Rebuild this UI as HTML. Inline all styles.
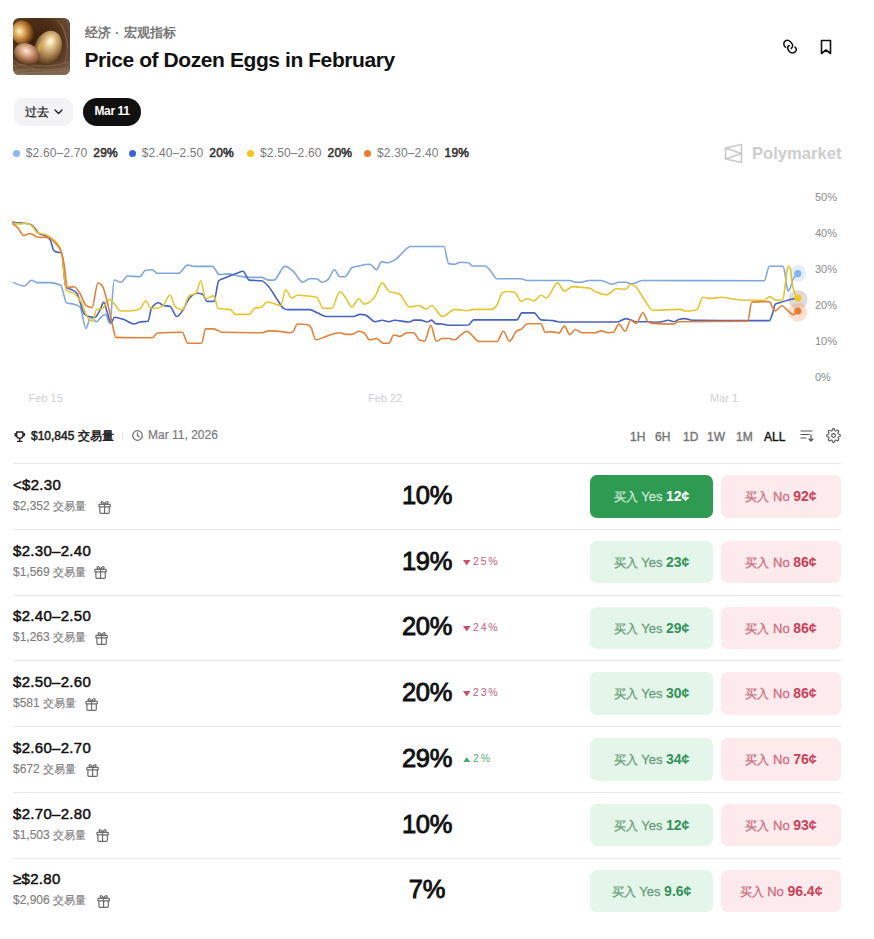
<!DOCTYPE html>
<html><head><meta charset="utf-8">
<style>
*{margin:0;padding:0;box-sizing:border-box}
html,body{width:874px;height:939px;background:#fff;overflow:hidden}
body{font-family:"Liberation Sans",sans-serif;color:#111;position:relative}
.a{position:absolute;white-space:nowrap}
.t{line-height:1}
#hdr-img{left:13px;top:18px;width:57px;height:57px;border-radius:6px;overflow:hidden}
.cat{left:84.5px;top:24.8px;font-size:13px;color:#777;font-weight:bold;line-height:15px}
.title{left:84.5px;top:49.2px;font-size:21px;font-weight:bold;line-height:21px;color:#111;letter-spacing:-0.42px}
.btn-past{left:14px;top:98px;width:59px;height:28px;border-radius:9px;background:#f3f3f5;font-size:11.6px;line-height:28px;padding-left:11px;color:#222;-webkit-text-stroke:0.25px #222}
.btn-mar{left:83px;top:98px;width:58px;height:28px;border-radius:14px;background:#111;color:#fff;font-size:12px;font-weight:bold;line-height:26.5px;text-align:center;letter-spacing:-0.4px}
.leg{top:146px;font-size:12px;line-height:14px;color:#7a7a7a;letter-spacing:0.15px}
.leg b{color:#333;margin-left:6px;font-weight:normal;-webkit-text-stroke:0.55px #333}
.dot{position:absolute;width:7px;height:7px;border-radius:50%;top:149.5px}
.poly{left:752px;top:145.3px;font-size:16.6px;font-weight:bold;color:#cdcdcd;line-height:17px}
.ax{font-size:11px;color:#888;line-height:12px}
.xl{font-size:11px;color:#c9cdd2;line-height:12px}
.tr{top:429px;font-size:12px;line-height:13px}
.rng{top:430.5px;font-size:12px;color:#767676;line-height:12px;-webkit-text-stroke:0.4px currentColor}
.div{left:13px;width:828px;height:1px;background:#e9e9eb}
.lbl{left:13px;font-size:15px;line-height:15px;color:#111;-webkit-text-stroke:0.5px #111;letter-spacing:0.3px}
.sub{left:13px;font-size:12px;line-height:12px;color:#7e7e7e;-webkit-text-stroke:0.15px currentColor}
.pct{left:377px;width:100px;text-align:center;font-size:25.5px;letter-spacing:-0.3px;line-height:25.5px;color:#111;-webkit-text-stroke:0.9px #111}
.chg{font-size:10.5px;line-height:10px;letter-spacing:1.8px;-webkit-text-stroke:0;font-weight:normal}
.yes{left:590px;width:123px;height:42.5px;border-radius:7px;background:#e4f5e9;text-align:center;line-height:42.5px;font-size:13px;color:#689d7b;-webkit-text-stroke:0.3px currentColor}
.yes b{color:#35915a;font-size:14px;-webkit-text-stroke:0}
.no{left:721px;width:120px;height:42.5px;border-radius:7px;background:#fdeaed;text-align:center;line-height:42.5px;font-size:13px;color:#cd6d80;-webkit-text-stroke:0.3px currentColor}
.no b{color:#c9425a;font-size:14px;-webkit-text-stroke:0}
.yes.on{background:#2f9a52;color:#cdebd6}
.yes.on b{color:#fff}
</style></head><body>

<!-- header image -->
<div class="a" id="hdr-img">
<svg width="57" height="57" viewBox="0 0 57 57">
<defs>
<radialGradient id="nest" cx="42%" cy="42%" r="75%"><stop offset="0" stop-color="#3a200c"/><stop offset="0.55" stop-color="#4e3019"/><stop offset="1" stop-color="#7a5c44"/></radialGradient>
<radialGradient id="egg1" cx="38%" cy="42%" r="62%"><stop offset="0" stop-color="#fff6dc"/><stop offset="0.2" stop-color="#f2cc88"/><stop offset="0.6" stop-color="#b87a34"/><stop offset="1" stop-color="#5e3612"/></radialGradient>
<radialGradient id="egg2" cx="50%" cy="36%" r="62%" fx="48%" fy="30%"><stop offset="0" stop-color="#fffdf0"/><stop offset="0.2" stop-color="#f2d8a0"/><stop offset="0.55" stop-color="#b8925e"/><stop offset="1" stop-color="#553818"/></radialGradient>
<radialGradient id="egg3" cx="42%" cy="38%" r="66%"><stop offset="0" stop-color="#fde8d8"/><stop offset="0.3" stop-color="#e0b090"/><stop offset="0.75" stop-color="#8e5e3a"/><stop offset="1" stop-color="#553418"/></radialGradient>
<linearGradient id="twig" x1="0" y1="0" x2="0" y2="1"><stop offset="0" stop-color="#6a4a30" stop-opacity="0"/><stop offset="1" stop-color="#8a725e"/></linearGradient>
<filter id="bl" x="-10%" y="-10%" width="120%" height="120%"><feGaussianBlur stdDeviation="0.7"/></filter><filter id="bl2" x="-50%" y="-50%" width="200%" height="200%"><feGaussianBlur stdDeviation="1.2"/></filter><linearGradient id="rim" x1="0" y1="0" x2="1" y2="0"><stop offset="0" stop-color="#f0b040" stop-opacity="0.9"/><stop offset="1" stop-color="#f0b040" stop-opacity="0"/></linearGradient>
</defs>
<rect width="57" height="57" fill="url(#nest)"/>
<rect y="40" width="57" height="17" fill="url(#twig)" opacity="0.85"/>
<g stroke="#a08468" stroke-width="0.6" fill="none" opacity="0.75">
<path d="M0 48 C15 44 30 52 57 44"/><path d="M2 53 C20 49 35 55 55 50"/><path d="M48 5 C54 15 56 30 52 45"/><path d="M3 57 C18 52 40 56 57 52"/><path d="M44 2 C50 8 54 20 55 30"/><path d="M0 42 C6 47 14 50 22 50"/>
</g>
<g filter="url(#bl)"><ellipse cx="9.5" cy="14.5" rx="11" ry="12" transform="rotate(-15 9.5 14.5)" fill="url(#egg1)"/>
<ellipse cx="35" cy="30" rx="13.3" ry="17.8" transform="rotate(22 35 30)" fill="url(#egg2)"/>
<ellipse cx="26.5" cy="29.5" rx="1.8" ry="6.5" transform="rotate(22 26.5 29.5)" fill="#f4bc50" opacity="0.6" filter="url(#bl2)"/>
<ellipse cx="14" cy="36" rx="13.3" ry="10.3" transform="rotate(25 14 36)" fill="url(#egg3)"/></g>
</svg>
</div>

<div class="a cat">经济<span style="margin:0 5px 0 4.5px">·</span>宏观指标</div>
<div class="a title">Price of Dozen Eggs in February</div>

<!-- link + bookmark icons -->
<svg class="a" style="left:780px;top:37px" width="20" height="20" viewBox="0 0 20 20" fill="none" stroke="#111" stroke-width="1.5" stroke-linecap="round">
<path d="M5.5 10.3 C3.5 8.5 3.2 5.5 5 4.2 C6.8 2.9 9 3.3 10.5 4.8 C12 6.3 13.2 8.4 12.3 10 C12 10.6 11.6 11 11.2 11.4"/>
<path d="M9.2 8.5 C7.8 9.3 7.2 11 8.2 12.8 C9.3 14.8 11.5 16.2 13.5 15.8 C15.5 15.4 16.8 13.3 16.2 11.8 C15.9 11 15.4 10.5 14.9 10.1"/>
</svg>
<svg class="a" style="left:820px;top:39px" width="12" height="16" viewBox="0 0 12 16" fill="none" stroke="#111" stroke-width="1.6" stroke-linejoin="round">
<path d="M1.5 1.5 H10.5 V14.5 L6 11 L1.5 14.5 Z"/>
</svg>

<div class="a btn-past">过去 <svg style="position:absolute;left:40px;top:11px" width="9" height="6" viewBox="0 0 9 6" fill="none" stroke="#222" stroke-width="1.4" stroke-linecap="round" stroke-linejoin="round"><path d="M1 1 L4.5 4.5 L8 1"/></svg></div>
<div class="a btn-mar">Mar 11</div>

<!-- legend -->
<span class="dot" style="left:13px;background:#8bb8ef"></span>
<div class="a leg" style="left:25.8px">$2.60–2.70<b>29%</b></div>
<span class="dot" style="left:129px;background:#3b63d6"></span>
<div class="a leg" style="left:141.8px">$2.40–2.50<b>20%</b></div>
<span class="dot" style="left:247px;background:#f3c51a"></span>
<div class="a leg" style="left:260px">$2.50–2.60<b>20%</b></div>
<span class="dot" style="left:364px;background:#ef7a2b"></span>
<div class="a leg" style="left:377px">$2.30–2.40<b>19%</b></div>

<!-- polymarket logo -->
<svg class="a" style="left:724px;top:143px" width="20" height="21" viewBox="0 0 20 21" fill="none" stroke="#c9c9c9" stroke-width="1.6" stroke-linejoin="round">
<path d="M1.5 5 L17.5 1.5 V19.5 L1.5 16 Z M1.5 5 L17.5 10.5 L1.5 16"/>
</svg>
<div class="a poly">Polymarket</div>

<!-- chart -->
<svg class="a" style="left:0;top:0" width="874" height="420" viewBox="0 0 874 420">
<g font-family="Liberation Sans" font-size="11" fill="#8a8a8a">
<text x="815" y="201.4">50%</text>
<text x="815" y="237.3">40%</text>
<text x="815" y="273.2">30%</text>
<text x="815" y="309.1">20%</text>
<text x="815" y="345.0">10%</text>
<text x="815" y="380.9">0%</text>
</g>
<g font-family="Liberation Sans" font-size="11" fill="#cfd0d4">
<text x="28.6" y="402">Feb 15</text><text x="368" y="402">Feb 22</text><text x="710" y="402">Mar 1</text>
</g>
<circle cx="797.8" cy="273.5" r="8.5" fill="#8ab4ec" opacity="0.22"/>
<circle cx="798" cy="299.5" r="9.5" fill="#b0a498" opacity="0.4"/>
<circle cx="797.8" cy="312" r="9.5" fill="#f5a070" opacity="0.32"/>
<path d="M13.7 282.6 C17.2 284.3 20.7 286.0 24.2 286.0 C26.7 286.0 29.1 280.3 31.6 280.3 C33.3 280.3 35.1 282.6 36.8 282.6 C41.3 282.6 45.7 282.6 50.2 282.6 C53.7 282.6 57.2 283.5 60.7 285.3 C62.7 286.3 64.6 302.5 66.6 303.1 C69.1 303.8 71.6 303.5 74.1 304.2 C76.1 304.8 78.0 305.1 80.0 306.9 C82.0 308.7 84.0 328.5 86.0 328.5 C87.5 328.5 89.0 317.3 90.5 317.3 C92.5 317.3 94.4 321.8 96.4 321.8 C97.9 321.8 99.4 318.6 100.9 317.3 C102.4 316.1 103.9 314.3 105.4 314.3 C106.9 314.3 108.3 323.3 109.8 323.3 C111.3 323.3 112.8 280.0 114.3 280.0 C116.6 280.0 118.9 282.2 121.2 282.2 C123.3 282.2 125.3 276.0 127.4 276.0 C131.5 276.0 135.6 276.7 139.7 276.7 C141.5 276.7 143.4 270.9 145.2 270.5 C147.5 270.0 149.8 269.8 152.1 269.8 C153.9 269.8 155.8 273.3 157.6 273.3 C164.5 273.3 171.3 273.3 178.2 273.3 C181.4 273.3 184.6 265.0 187.8 265.0 C190.1 265.0 192.3 266.4 194.6 266.4 C200.6 266.4 206.5 266.4 212.5 266.4 C214.8 266.4 217.1 274.6 219.4 274.6 C222.1 274.6 224.9 273.9 227.6 273.9 C231.1 273.9 234.7 275.4 238.2 276.0 C241.9 276.6 245.5 277.4 249.2 277.4 C253.3 277.4 257.5 277.4 261.6 277.4 C263.9 277.4 266.1 280.1 268.4 280.1 C270.2 280.1 272.1 280.1 273.9 280.1 C277.6 280.1 281.2 266.4 284.9 266.4 C287.7 266.4 290.4 268.9 293.2 271.2 C296.4 273.9 299.6 282.2 302.8 282.2 C305.1 282.2 307.3 278.7 309.6 278.7 C311.9 278.7 314.2 278.7 316.5 278.7 C318.3 278.7 320.2 282.2 322.0 282.2 C324.1 282.2 326.1 281.3 328.2 279.4 C330.3 277.5 332.3 269.8 334.4 269.8 C336.2 269.8 338.0 276.7 339.8 276.7 C341.5 276.7 343.3 276.7 345.0 276.7 C347.3 276.7 349.6 269.0 351.9 267.8 C354.2 266.6 356.4 266.5 358.7 266.0 C362.4 265.2 366.0 264.3 369.7 264.3 C372.0 264.3 374.3 269.8 376.6 269.8 C378.2 269.8 379.8 261.6 381.4 261.6 C383.5 261.6 385.5 262.7 387.6 262.7 C389.9 262.7 392.1 261.3 394.4 260.2 C399.9 257.4 405.4 246.5 410.9 246.5 C421.9 246.5 432.9 246.5 443.9 246.5 C445.5 246.5 447.1 263.2 448.7 263.6 C450.7 264.1 452.8 264.3 454.8 264.3 C456.6 264.3 458.5 262.3 460.3 262.3 C462.9 262.3 465.6 262.4 468.2 262.7 C469.6 262.8 471.0 266.0 472.4 266.0 C476.7 266.0 481.1 266.0 485.4 266.0 C487.0 266.0 488.6 268.8 490.2 270.5 C492.5 272.9 494.8 278.7 497.1 278.7 C504.9 278.7 512.6 278.7 520.4 278.7 C522.7 278.7 525.0 280.5 527.3 280.5 C541.5 280.5 555.6 280.5 569.8 280.5 C571.6 280.5 573.5 282.2 575.3 282.2 C577.5 282.2 579.7 282.2 581.9 282.2 C584.2 282.2 586.4 280.5 588.7 280.5 C592.8 280.5 597.0 280.5 601.1 280.5 C604.8 280.5 608.4 284.2 612.1 284.2 C614.4 284.2 616.6 282.2 618.9 282.2 C621.2 282.2 623.5 282.2 625.8 282.2 C627.6 282.2 629.5 283.8 631.3 283.8 C635.0 283.8 638.6 280.5 642.3 280.5 C682.9 280.5 723.6 280.7 764.2 280.7 C765.9 280.7 767.7 266.2 769.4 266.2 C773.9 266.2 778.3 266.2 782.8 266.2 C783.5 266.2 784.3 269.3 785.0 273.6 C785.5 276.5 786.0 281.9 786.5 284.8 C787.0 287.7 787.5 291.1 788.0 291.1 C788.9 291.1 789.7 289.3 790.6 287.0 C791.2 285.3 791.9 282.0 792.5 280.3 C793.5 277.6 794.5 277.3 795.5 275.9 C796.2 274.9 797.0 273.9 797.7 272.9" fill="none" stroke="#80a6dc" stroke-width="1.6" stroke-linejoin="round" stroke-linecap="round"/>
<path d="M13.0 222.0 C13.6 222.2 14.2 222.4 14.8 222.5 C17.8 223.0 20.7 222.8 23.7 223.2 C26.0 223.5 28.3 223.7 30.6 224.6 C32.0 225.2 33.3 226.4 34.7 228.0 C35.8 229.3 37.0 231.8 38.1 232.8 C40.9 235.1 43.6 234.1 46.4 236.3 C47.8 237.4 49.1 237.7 50.5 240.4 C51.6 242.7 52.8 249.8 53.9 250.7 C55.3 251.8 56.6 252.2 58.0 252.4 C59.2 252.6 60.3 252.5 61.5 252.7 C63.0 253.0 64.4 286.4 65.9 287.5 C67.9 289.0 69.8 288.6 71.8 289.7 C73.5 290.7 75.3 291.0 77.0 293.5 C79.5 297.2 82.0 311.7 84.5 314.3 C86.0 315.8 87.5 316.2 89.0 316.6 C91.0 317.1 93.0 317.3 95.0 317.3 C96.5 317.3 97.9 313.7 99.4 311.3 C100.9 308.8 102.4 302.4 103.9 302.4 C104.9 302.4 105.9 308.4 106.9 311.3 C108.4 315.5 109.8 323.3 111.3 323.3 C112.3 323.3 113.3 317.3 114.3 317.3 C117.3 317.3 120.2 318.3 123.2 319.2 C126.9 320.3 130.5 324.0 134.2 324.0 C136.0 324.0 137.9 322.3 139.7 322.0 C142.5 321.5 145.2 321.8 148.0 321.3 C149.1 321.1 150.3 310.0 151.4 308.3 C153.9 304.6 156.4 302.8 158.9 302.8 C160.3 302.8 161.7 305.2 163.1 305.5 C165.4 306.0 167.6 305.7 169.9 306.2 C172.2 306.7 174.5 316.5 176.8 316.5 C178.6 316.5 180.5 313.5 182.3 311.0 C184.6 307.9 186.8 301.6 189.1 298.7 C191.9 295.1 194.6 293.2 197.4 293.2 C199.2 293.2 201.1 293.6 202.9 294.5 C204.3 295.1 205.6 301.4 207.0 301.4 C209.3 301.4 211.6 301.4 213.9 301.4 C215.5 301.4 217.1 282.3 218.7 280.8 C220.7 278.9 222.8 278.9 224.8 278.0 C228.8 276.2 232.9 274.7 236.9 273.3 C238.9 272.6 241.0 271.2 243.0 271.2 C245.1 271.2 247.1 279.9 249.2 280.1 C253.3 280.6 257.5 280.3 261.6 280.8 C263.9 281.1 266.1 283.8 268.4 286.3 C271.2 289.4 273.9 294.7 276.7 298.7 C279.0 302.0 281.2 306.9 283.5 308.3 C284.9 309.2 286.3 309.6 287.7 309.6 C295.0 309.6 302.3 309.6 309.6 309.6 C312.4 309.6 315.1 311.9 317.9 313.1 C320.6 314.2 323.4 316.5 326.1 316.5 C335.1 316.5 344.2 316.5 353.2 316.5 C355.5 316.5 357.8 314.4 360.1 314.4 C361.9 314.4 363.8 314.6 365.6 315.1 C368.8 315.9 372.0 321.7 375.2 321.7 C377.5 321.7 379.8 320.3 382.1 320.3 C384.4 320.3 386.6 321.7 388.9 321.7 C390.7 321.7 392.6 320.3 394.4 320.3 C399.4 320.3 404.5 322.0 409.5 322.0 C410.9 322.0 412.3 320.1 413.7 320.1 C416.0 320.1 418.2 320.1 420.5 320.1 C422.8 320.1 425.1 322.0 427.4 322.0 C428.8 322.0 430.1 320.1 431.5 320.1 C432.9 320.1 434.2 323.4 435.6 323.6 C438.4 324.0 441.1 323.8 443.9 324.2 C445.3 324.4 446.6 325.3 448.0 325.3 C454.7 325.3 461.5 325.2 468.2 325.0 C470.0 324.9 471.9 319.9 473.7 319.9 C488.1 319.9 502.6 319.9 517.0 319.9 C518.6 319.9 520.2 312.9 521.8 312.9 C525.9 312.9 530.0 312.9 534.1 312.9 C536.4 312.9 538.7 319.6 541.0 319.9 C545.1 320.4 549.3 320.1 553.4 320.6 C555.2 320.8 557.1 322.0 558.9 322.0 C578.5 322.0 598.0 322.0 617.6 322.0 C620.3 322.0 623.1 318.6 625.8 318.6 C628.1 318.6 630.4 319.7 632.7 320.6 C633.6 320.9 634.5 321.7 635.4 321.7 C640.0 321.7 644.5 321.7 649.1 321.7 C650.9 321.7 652.8 322.3 654.6 322.3 C656.9 322.3 659.2 322.0 661.5 321.7 C663.8 321.4 666.1 320.3 668.4 320.3 C670.2 320.3 672.1 321.7 673.9 321.7 C675.7 321.7 677.6 319.6 679.4 319.2 C681.2 318.8 683.0 318.6 684.8 318.6 C686.6 318.6 688.5 319.6 690.3 319.9 C691.9 320.1 693.4 320.3 695.0 320.3 C712.6 320.5 730.1 320.6 747.7 320.6 C754.9 320.6 762.2 320.6 769.4 320.6 C770.4 320.6 771.4 316.7 772.4 313.9 C773.4 311.2 774.3 304.8 775.3 304.2 C776.8 303.2 778.3 303.2 779.8 302.7 C784.0 301.3 788.3 299.8 792.5 299.0 C794.3 298.7 796.0 298.4 797.8 298.2" fill="none" stroke="#4862c0" stroke-width="1.6" stroke-linejoin="round" stroke-linecap="round"/>
<path d="M13.0 223.4 C15.9 223.7 18.8 223.9 21.7 223.9 C23.3 223.9 24.9 223.2 26.5 223.2 C28.5 223.2 30.6 224.8 32.6 226.7 C34.2 228.2 35.9 232.1 37.5 232.8 C39.3 233.5 41.1 233.4 42.9 233.9 C44.3 234.3 45.7 234.5 47.1 235.2 C48.9 236.1 50.8 237.4 52.6 239.0 C54.4 240.5 56.2 241.4 58.0 244.5 C59.2 246.5 60.3 247.0 61.5 252.1 C63.2 259.5 64.9 289.1 66.6 290.5 C69.1 292.5 71.6 291.5 74.1 293.5 C76.6 295.5 79.0 297.7 81.5 302.4 C83.5 306.2 85.5 314.5 87.5 317.3 C89.2 319.8 91.0 321.0 92.7 321.0 C93.9 321.0 95.2 310.5 96.4 309.9 C98.4 308.9 100.4 309.4 102.4 308.4 C103.9 307.6 105.4 304.1 106.9 302.4 C107.9 301.3 108.8 299.4 109.8 299.4 C111.3 299.4 112.8 302.3 114.3 303.9 C116.4 306.1 118.4 311.0 120.5 311.0 C123.2 311.0 126.0 311.0 128.7 311.0 C132.4 311.0 136.0 310.3 139.7 309.0 C141.8 308.2 143.8 300.7 145.9 300.7 C147.5 300.7 149.1 308.3 150.7 308.3 C152.5 308.3 154.4 308.3 156.2 308.3 C158.5 308.3 160.8 307.4 163.1 305.5 C165.4 303.7 167.6 295.2 169.9 295.2 C171.7 295.2 173.6 305.5 175.4 306.9 C177.7 308.7 180.0 309.6 182.3 309.6 C184.6 309.6 186.8 297.7 189.1 295.9 C191.4 294.1 193.7 295.0 196.0 293.2 C197.6 291.9 199.2 280.8 200.8 280.8 C202.4 280.8 204.0 298.7 205.6 298.7 C208.4 298.7 211.1 295.9 213.9 295.9 C215.3 295.9 216.6 308.0 218.0 308.3 C222.1 309.2 226.2 308.7 230.3 309.6 C232.0 310.0 233.8 314.4 235.5 314.4 C240.1 314.4 244.6 314.4 249.2 314.4 C251.0 314.4 252.9 309.0 254.7 308.3 C257.0 307.4 259.3 307.8 261.6 306.9 C263.4 306.2 265.3 302.1 267.1 302.1 C268.5 302.1 269.8 302.5 271.2 302.8 C274.4 303.5 277.6 305.5 280.8 305.5 C282.4 305.5 284.0 289.7 285.6 289.7 C287.7 289.7 289.7 298.0 291.8 298.0 C293.6 298.0 295.5 295.2 297.3 295.2 C300.5 295.2 303.7 295.5 306.9 295.9 C310.1 296.2 313.3 296.4 316.5 297.3 C318.8 298.0 321.1 308.3 323.4 308.3 C326.1 308.3 328.9 308.3 331.6 308.3 C334.3 308.3 337.1 291.8 339.8 291.8 C341.6 291.8 343.5 295.1 345.3 297.3 C347.5 300.0 349.7 306.9 351.9 306.9 C354.2 306.9 356.4 298.7 358.7 298.7 C360.5 298.7 362.4 304.1 364.2 304.1 C367.9 304.1 371.5 301.2 375.2 295.9 C377.5 292.6 379.8 282.9 382.1 282.9 C384.4 282.9 386.6 289.7 388.9 291.1 C392.6 293.4 396.2 292.2 399.9 294.5 C403.1 296.5 406.3 306.9 409.5 306.9 C412.7 306.9 415.9 305.5 419.1 305.5 C421.4 305.5 423.7 309.0 426.0 309.0 C427.8 309.0 429.7 305.5 431.5 305.5 C435.2 305.5 438.8 316.5 442.5 316.5 C446.6 316.5 450.7 309.4 454.8 309.4 C458.8 309.4 462.9 310.7 466.9 310.7 C469.2 310.7 471.4 309.4 473.7 309.4 C479.7 309.4 485.6 309.4 491.6 309.4 C493.4 309.4 495.3 307.6 497.1 304.8 C498.9 302.0 500.8 293.4 502.6 292.5 C504.0 291.8 505.3 291.5 506.7 291.5 C509.4 291.5 512.2 291.8 514.9 292.5 C517.0 293.0 519.0 301.4 521.1 301.4 C523.2 301.4 525.2 298.7 527.3 298.7 C529.6 298.7 531.8 300.7 534.1 300.7 C536.4 300.7 538.7 295.2 541.0 295.2 C542.8 295.2 544.7 298.0 546.5 298.0 C550.2 298.0 553.8 282.9 557.5 282.9 C559.8 282.9 562.1 291.1 564.4 291.1 C567.1 291.1 569.9 286.6 572.6 286.6 C575.7 286.6 578.8 287.1 581.9 287.4 C584.6 287.7 587.4 287.7 590.1 288.4 C591.9 288.8 593.8 290.9 595.6 291.8 C599.3 293.6 602.9 294.8 606.6 294.8 C609.8 294.8 613.0 288.8 616.2 288.8 C619.4 288.8 622.6 289.3 625.8 289.3 C627.4 289.3 629.0 284.2 630.6 284.2 C632.2 284.2 633.8 285.0 635.4 286.3 C638.2 288.6 640.9 294.9 643.7 298.7 C646.9 303.1 650.1 310.3 653.3 310.3 C656.9 310.3 660.6 310.0 664.2 309.9 C669.7 309.7 675.2 309.4 680.7 309.4 C682.1 309.4 683.4 311.0 684.8 311.0 C686.5 311.0 688.3 311.0 690.0 311.0 C692.3 311.0 694.6 310.5 696.9 309.6 C698.9 308.8 701.0 297.3 703.0 297.3 C705.5 297.3 708.1 298.4 710.6 298.4 C714.3 298.4 717.9 297.3 721.6 297.3 C724.8 297.3 728.0 298.3 731.2 298.7 C735.8 299.3 740.3 300.3 744.9 300.3 C751.3 300.3 757.8 300.3 764.2 300.3 C766.0 300.3 767.9 296.6 769.7 296.6 C771.8 296.6 774.0 300.1 776.1 300.1 C778.3 300.1 780.6 300.0 782.8 299.7 C783.7 299.6 784.5 289.3 785.4 283.3 C786.0 278.9 786.7 271.9 787.3 269.2 C787.8 267.2 788.2 266.2 788.7 266.2 C789.3 266.2 790.0 267.4 790.6 269.9 C791.0 271.3 791.3 278.1 791.7 281.1 C792.5 287.4 793.2 288.2 794.0 290.8 C794.7 293.3 795.5 295.5 796.2 296.7 C796.8 297.7 797.4 297.9 798.0 298.2" fill="none" stroke="#e4c532" stroke-width="1.6" stroke-linejoin="round" stroke-linecap="round"/>
<path d="M12.7 223.9 C14.3 224.9 15.9 225.8 17.5 227.4 C19.6 229.4 21.6 235.6 23.7 235.6 C25.8 235.6 27.8 233.5 29.9 233.5 C32.4 233.5 35.0 236.7 37.5 237.0 C41.1 237.4 44.8 237.2 48.4 237.6 C50.5 237.8 52.5 240.3 54.6 242.5 C56.7 244.7 58.7 245.2 60.8 250.7 C61.5 252.5 62.1 254.6 62.8 257.6 C63.3 259.7 63.7 262.3 64.2 265.0 C65.3 271.2 66.3 287.5 67.4 287.5 C69.6 287.5 71.9 286.7 74.1 286.7 C76.1 286.7 78.0 290.4 80.0 293.5 C82.0 296.6 84.0 303.9 86.0 305.4 C88.0 306.9 90.0 307.6 92.0 307.6 C94.0 307.6 95.9 283.0 97.9 283.0 C99.4 283.0 100.9 284.0 102.4 286.0 C104.4 288.7 106.4 298.9 108.4 306.9 C109.9 312.8 111.3 320.3 112.8 326.2 C113.8 330.2 114.8 337.4 115.8 337.4 C127.9 337.7 140.0 337.8 152.1 337.8 C153.9 337.8 155.8 333.1 157.6 333.0 C165.8 332.5 174.1 332.3 182.3 332.3 C184.1 332.3 186.0 343.3 187.8 343.3 C192.4 343.3 196.9 343.3 201.5 343.3 C202.9 343.3 204.2 328.9 205.6 328.9 C208.4 328.9 211.1 328.9 213.9 328.9 C216.6 328.9 219.4 332.2 222.1 332.3 C235.7 332.6 249.4 332.7 263.0 332.7 C264.8 332.7 266.6 330.9 268.4 330.9 C273.0 330.9 277.6 331.1 282.2 331.6 C284.5 331.8 286.7 332.7 289.0 332.7 C290.4 332.7 291.8 332.3 293.2 331.6 C294.6 330.9 295.9 324.0 297.3 324.0 C301.0 324.0 304.6 324.2 308.3 324.7 C309.2 324.8 310.1 326.1 311.0 327.5 C312.6 330.0 314.2 339.8 315.8 339.8 C319.2 339.8 322.7 337.4 326.1 336.4 C330.7 335.0 335.2 332.7 339.8 332.7 C341.6 332.7 343.5 334.4 345.3 334.4 C347.5 334.4 349.7 334.4 351.9 334.4 C354.2 334.4 356.4 331.3 358.7 331.3 C360.5 331.3 362.4 331.9 364.2 333.0 C366.0 334.1 367.9 339.8 369.7 339.8 C372.0 339.8 374.3 338.5 376.6 338.5 C378.9 338.5 381.1 343.3 383.4 343.3 C385.2 343.3 387.1 343.3 388.9 343.3 C390.5 343.3 392.1 335.0 393.7 335.0 C395.8 335.0 397.8 336.4 399.9 336.4 C402.2 336.4 404.5 332.7 406.8 332.7 C409.1 332.7 411.4 332.7 413.7 332.7 C415.5 332.7 417.3 338.9 419.1 339.8 C420.9 340.7 422.8 341.2 424.6 341.2 C426.7 341.2 428.7 325.4 430.8 325.4 C432.6 325.4 434.5 341.2 436.3 341.2 C438.4 341.2 440.4 338.5 442.5 338.5 C444.8 338.5 447.1 338.5 449.4 338.5 C451.2 338.5 453.0 339.8 454.8 339.8 C456.5 339.8 458.3 337.0 460.0 335.7 C462.3 334.0 464.6 331.3 466.9 331.3 C468.3 331.3 469.6 333.3 471.0 334.4 C473.7 336.6 476.5 341.5 479.2 341.5 C485.2 341.5 491.1 341.5 497.1 341.5 C499.2 341.5 501.2 331.3 503.3 331.3 C505.3 331.3 507.4 341.2 509.4 341.2 C511.7 341.2 514.0 333.3 516.3 331.3 C518.1 329.7 520.0 330.1 521.8 328.9 C523.6 327.6 525.5 323.8 527.3 323.8 C531.9 323.8 536.4 323.8 541.0 323.8 C542.4 323.8 543.7 332.3 545.1 332.3 C546.9 332.3 548.8 331.6 550.6 331.6 C553.4 331.6 556.1 333.0 558.9 333.0 C560.7 333.0 562.6 326.1 564.4 326.1 C566.2 326.1 568.0 334.6 569.8 334.6 C571.6 334.6 573.5 329.5 575.3 329.5 C577.5 329.5 579.7 332.7 581.9 332.7 C586.5 332.7 591.0 332.7 595.6 332.7 C597.4 332.7 599.3 330.9 601.1 330.9 C603.4 330.9 605.7 332.7 608.0 332.7 C609.8 332.7 611.6 332.6 613.4 332.3 C615.2 332.0 617.1 324.1 618.9 324.1 C621.0 324.1 623.0 331.3 625.1 331.3 C626.9 331.3 628.8 320.3 630.6 320.3 C632.4 320.3 634.3 323.4 636.1 323.4 C638.4 323.4 640.7 312.8 643.0 312.8 C644.6 312.8 646.2 319.7 647.8 321.3 C649.2 322.7 650.5 323.3 651.9 323.4 C659.2 323.9 666.6 324.1 673.9 324.1 C675.3 324.1 676.6 321.7 678.0 321.7 C701.2 321.4 724.5 321.6 747.7 321.3 C749.1 321.3 750.4 302.2 751.8 302.1 C757.7 301.8 763.5 301.6 769.4 301.6 C770.4 301.6 771.4 305.6 772.4 307.2 C773.4 308.7 774.3 310.9 775.3 310.9 C777.5 310.9 779.8 305.7 782.0 305.7 C783.8 305.7 785.5 308.7 787.3 310.1 C789.3 311.7 791.2 314.6 793.2 314.6 C794.7 314.6 796.2 313.0 797.7 311.4" fill="none" stroke="#e0823c" stroke-width="1.6" stroke-linejoin="round" stroke-linecap="round"/>
<circle cx="797.8" cy="273.7" r="3.6" fill="#84b4ec"/>
<circle cx="797.8" cy="311" r="3.6" fill="#ec7a2e"/>
<circle cx="797.8" cy="298" r="3.6" fill="#efc623"/>
</svg>

<!-- volume/time row -->

<svg class="a" style="left:13.6px;top:430.8px" width="11.5" height="11.5" viewBox="0 0 11 11" fill="none" stroke="#222" stroke-width="1.3" stroke-linejoin="round" stroke-linecap="round"><path d="M2.5 1 H8.5 V4 a3 3 0 0 1 -6 0 Z M2.5 2.5 H1 V3.5 a1.5 1.5 0 0 0 1.6 1.5 M8.5 2.5 H10 V3.5 a1.5 1.5 0 0 1 -1.6 1.5 M5.5 7 V9 M3.5 10 H7.5"/></svg>
<div class="a tr" style="left:31px;color:#222;-webkit-text-stroke:0.5px #222">$10,845 <span style="font-size:11.6px">交易量</span></div>
<div class="a" style="left:122px;top:432px;width:1px;height:8px;background:#e6e6e6"></div>
<svg class="a" style="left:132px;top:430px" width="11" height="11" viewBox="0 0 11 11" fill="none" stroke="#707070" stroke-width="1.25" stroke-linecap="round"><circle cx="5.5" cy="5.5" r="4.8"/><path d="M5.5 2.8 V5.6 L7.3 6.8"/></svg>
<div class="a tr" style="left:148px;color:#7a7a7a;-webkit-text-stroke:0.2px #7a7a7a">Mar 11, 2026</div>
<div class="a rng" style="left:630px">1H</div>
<div class="a rng" style="left:655px">6H</div>
<div class="a rng" style="left:683px">1D</div>
<div class="a rng" style="left:707px">1W</div>
<div class="a rng" style="left:736px">1M</div>
<div class="a rng" style="left:764px;color:#111">ALL</div>
<svg class="a" style="left:800px;top:429px" width="14" height="13" viewBox="0 0 14 13" fill="none" stroke="#555" stroke-width="1.2" stroke-linecap="round" stroke-linejoin="round"><path d="M1 2 H12 M1 5.5 H9 M1 9 H6 M11 5.5 V12 M9 10 L11 12 L13 10"/></svg>
<svg class="a" style="left:826px;top:428px" width="15" height="15" viewBox="0 0 24 24" fill="none" stroke="#555" stroke-width="1.8" stroke-linejoin="round"><circle cx="12" cy="12" r="3"/><path d="M19.4 15a1.65 1.65 0 0 0 .33 1.82l.06.06a2 2 0 0 1-2.83 2.83l-.06-.06a1.65 1.65 0 0 0-1.82-.33 1.65 1.65 0 0 0-1 1.51V21a2 2 0 0 1-4 0v-.09A1.65 1.65 0 0 0 9 19.4a1.65 1.65 0 0 0-1.82.33l-.06.06a2 2 0 0 1-2.83-2.83l.06-.06a1.65 1.65 0 0 0 .33-1.82 1.65 1.65 0 0 0-1.51-1H3a2 2 0 0 1 0-4h.09A1.65 1.65 0 0 0 4.6 9a1.65 1.65 0 0 0-.33-1.82l-.06-.06a2 2 0 0 1 2.83-2.83l.06.06a1.65 1.65 0 0 0 1.82.33H9a1.65 1.65 0 0 0 1-1.51V3a2 2 0 0 1 4 0v.09a1.650 1.65 0 0 0 1 1.51 1.65 1.65 0 0 0 1.82-.33l.06-.06a2 2 0 0 1 2.83 2.83l-.06.06a1.65 1.65 0 0 0-.33 1.82V9a1.65 1.65 0 0 0 1.51 1H21a2 2 0 0 1 0 4h-.09a1.65 1.65 0 0 0-1.51 1z"/></svg>


<!-- rows -->
<div class="a div" style="top:463.00px"></div>
<div class="a lbl" style="top:476.80px">&lt;$2.30</div>
<div class="a sub" style="top:499.80px">$2,352 <span style="font-size:11.4px">交易量</span></div>
<div class="a" style="left:98.2px;top:498.50px;width:14px;height:16px"><svg width="14" height="16" viewBox="0 0 14 16" fill="none" stroke="#6d6d6d" stroke-width="1.2" stroke-linejoin="round" stroke-linecap="round"><rect x="0.9" y="5.3" width="11.4" height="2.5" rx="0.6"/><path d="M1.9 7.8 V13.3 a1 1 0 0 0 1 1 H10.3 a1 1 0 0 0 1 -1 V7.8 M6.6 5.3 V14.2 M6.6 5.2 C5.6 2.4 3.1 2 3.1 3.7 C3.1 4.7 4.6 5.2 6.6 5.2 M6.6 5.2 C7.6 2.4 10.1 2 10.1 3.7 C10.1 4.7 8.6 5.2 6.6 5.2"/></svg></div>
<div class="a pct" style="top:482.90px"><span style="position:relative;display:inline-block">10%</span></div>
<div class="a yes on" style="top:475.20px"><span style="font-size:12.3px">买入</span> Yes <b>12¢</b></div>
<div class="a no" style="top:475.20px"><span style="font-size:12.3px">买入</span> No <b>92¢</b></div>
<div class="a div" style="top:528.75px"></div>
<div class="a lbl" style="top:542.55px">$2.30–2.40</div>
<div class="a sub" style="top:565.55px">$1,569 <span style="font-size:11.4px">交易量</span></div>
<div class="a" style="left:94.3px;top:564.25px;width:14px;height:16px"><svg width="14" height="16" viewBox="0 0 14 16" fill="none" stroke="#6d6d6d" stroke-width="1.2" stroke-linejoin="round" stroke-linecap="round"><rect x="0.9" y="5.3" width="11.4" height="2.5" rx="0.6"/><path d="M1.9 7.8 V13.3 a1 1 0 0 0 1 1 H10.3 a1 1 0 0 0 1 -1 V7.8 M6.6 5.3 V14.2 M6.6 5.2 C5.6 2.4 3.1 2 3.1 3.7 C3.1 4.7 4.6 5.2 6.6 5.2 M6.6 5.2 C7.6 2.4 10.1 2 10.1 3.7 C10.1 4.7 8.6 5.2 6.6 5.2"/></svg></div>
<div class="a pct" style="top:548.65px"><span style="position:relative;display:inline-block">19%<span style="position:absolute;left:calc(100% + 11px);top:0;height:20px;width:50px"><svg style="position:absolute;left:0;top:11.3px" width="7.5" height="5.5" viewBox="0 0 7 5"><path d="M0 0 H7 L3.5 5 Z" fill="#c9506a"/></svg><span class="chg" style="position:absolute;left:10px;top:7.3px;color:#c4607a">25%</span></span></span></div>
<div class="a yes" style="top:540.95px"><span style="font-size:12.3px">买入</span> Yes <b>23¢</b></div>
<div class="a no" style="top:540.95px"><span style="font-size:12.3px">买入</span> No <b>86¢</b></div>
<div class="a div" style="top:594.50px"></div>
<div class="a lbl" style="top:608.30px">$2.40–2.50</div>
<div class="a sub" style="top:631.30px">$1,263 <span style="font-size:11.4px">交易量</span></div>
<div class="a" style="left:94.9px;top:630.00px;width:14px;height:16px"><svg width="14" height="16" viewBox="0 0 14 16" fill="none" stroke="#6d6d6d" stroke-width="1.2" stroke-linejoin="round" stroke-linecap="round"><rect x="0.9" y="5.3" width="11.4" height="2.5" rx="0.6"/><path d="M1.9 7.8 V13.3 a1 1 0 0 0 1 1 H10.3 a1 1 0 0 0 1 -1 V7.8 M6.6 5.3 V14.2 M6.6 5.2 C5.6 2.4 3.1 2 3.1 3.7 C3.1 4.7 4.6 5.2 6.6 5.2 M6.6 5.2 C7.6 2.4 10.1 2 10.1 3.7 C10.1 4.7 8.6 5.2 6.6 5.2"/></svg></div>
<div class="a pct" style="top:614.40px"><span style="position:relative;display:inline-block">20%<span style="position:absolute;left:calc(100% + 11px);top:0;height:20px;width:50px"><svg style="position:absolute;left:0;top:11.3px" width="7.5" height="5.5" viewBox="0 0 7 5"><path d="M0 0 H7 L3.5 5 Z" fill="#c9506a"/></svg><span class="chg" style="position:absolute;left:10px;top:7.3px;color:#c4607a">24%</span></span></span></div>
<div class="a yes" style="top:606.70px"><span style="font-size:12.3px">买入</span> Yes <b>29¢</b></div>
<div class="a no" style="top:606.70px"><span style="font-size:12.3px">买入</span> No <b>86¢</b></div>
<div class="a div" style="top:660.25px"></div>
<div class="a lbl" style="top:674.05px">$2.50–2.60</div>
<div class="a sub" style="top:697.05px">$581 <span style="font-size:11.4px">交易量</span></div>
<div class="a" style="left:85.2px;top:695.75px;width:14px;height:16px"><svg width="14" height="16" viewBox="0 0 14 16" fill="none" stroke="#6d6d6d" stroke-width="1.2" stroke-linejoin="round" stroke-linecap="round"><rect x="0.9" y="5.3" width="11.4" height="2.5" rx="0.6"/><path d="M1.9 7.8 V13.3 a1 1 0 0 0 1 1 H10.3 a1 1 0 0 0 1 -1 V7.8 M6.6 5.3 V14.2 M6.6 5.2 C5.6 2.4 3.1 2 3.1 3.7 C3.1 4.7 4.6 5.2 6.6 5.2 M6.6 5.2 C7.6 2.4 10.1 2 10.1 3.7 C10.1 4.7 8.6 5.2 6.6 5.2"/></svg></div>
<div class="a pct" style="top:680.15px"><span style="position:relative;display:inline-block">20%<span style="position:absolute;left:calc(100% + 11px);top:0;height:20px;width:50px"><svg style="position:absolute;left:0;top:11.3px" width="7.5" height="5.5" viewBox="0 0 7 5"><path d="M0 0 H7 L3.5 5 Z" fill="#c9506a"/></svg><span class="chg" style="position:absolute;left:10px;top:7.3px;color:#c4607a">23%</span></span></span></div>
<div class="a yes" style="top:672.45px"><span style="font-size:12.3px">买入</span> Yes <b>30¢</b></div>
<div class="a no" style="top:672.45px"><span style="font-size:12.3px">买入</span> No <b>86¢</b></div>
<div class="a div" style="top:726.00px"></div>
<div class="a lbl" style="top:739.80px">$2.60–2.70</div>
<div class="a sub" style="top:762.80px">$672 <span style="font-size:11.4px">交易量</span></div>
<div class="a" style="left:85.9px;top:761.50px;width:14px;height:16px"><svg width="14" height="16" viewBox="0 0 14 16" fill="none" stroke="#6d6d6d" stroke-width="1.2" stroke-linejoin="round" stroke-linecap="round"><rect x="0.9" y="5.3" width="11.4" height="2.5" rx="0.6"/><path d="M1.9 7.8 V13.3 a1 1 0 0 0 1 1 H10.3 a1 1 0 0 0 1 -1 V7.8 M6.6 5.3 V14.2 M6.6 5.2 C5.6 2.4 3.1 2 3.1 3.7 C3.1 4.7 4.6 5.2 6.6 5.2 M6.6 5.2 C7.6 2.4 10.1 2 10.1 3.7 C10.1 4.7 8.6 5.2 6.6 5.2"/></svg></div>
<div class="a pct" style="top:745.90px"><span style="position:relative;display:inline-block">29%<span style="position:absolute;left:calc(100% + 11px);top:0;height:20px;width:50px"><svg style="position:absolute;left:0;top:10.8px" width="7.5" height="5.5" viewBox="0 0 7 5"><path d="M0 5 H7 L3.5 0 Z" fill="#4ea66c"/></svg><span class="chg" style="position:absolute;left:10px;top:7.3px;color:#5aa878">2%</span></span></span></div>
<div class="a yes" style="top:738.20px"><span style="font-size:12.3px">买入</span> Yes <b>34¢</b></div>
<div class="a no" style="top:738.20px"><span style="font-size:12.3px">买入</span> No <b>76¢</b></div>
<div class="a div" style="top:791.75px"></div>
<div class="a lbl" style="top:805.55px">$2.70–2.80</div>
<div class="a sub" style="top:828.55px">$1,503 <span style="font-size:11.4px">交易量</span></div>
<div class="a" style="left:95.7px;top:827.25px;width:14px;height:16px"><svg width="14" height="16" viewBox="0 0 14 16" fill="none" stroke="#6d6d6d" stroke-width="1.2" stroke-linejoin="round" stroke-linecap="round"><rect x="0.9" y="5.3" width="11.4" height="2.5" rx="0.6"/><path d="M1.9 7.8 V13.3 a1 1 0 0 0 1 1 H10.3 a1 1 0 0 0 1 -1 V7.8 M6.6 5.3 V14.2 M6.6 5.2 C5.6 2.4 3.1 2 3.1 3.7 C3.1 4.7 4.6 5.2 6.6 5.2 M6.6 5.2 C7.6 2.4 10.1 2 10.1 3.7 C10.1 4.7 8.6 5.2 6.6 5.2"/></svg></div>
<div class="a pct" style="top:811.65px"><span style="position:relative;display:inline-block">10%</span></div>
<div class="a yes" style="top:803.95px"><span style="font-size:12.3px">买入</span> Yes <b>12¢</b></div>
<div class="a no" style="top:803.95px"><span style="font-size:12.3px">买入</span> No <b>93¢</b></div>
<div class="a div" style="top:857.50px"></div>
<div class="a lbl" style="top:871.30px">≥$2.80</div>
<div class="a sub" style="top:894.30px">$2,906 <span style="font-size:11.4px">交易量</span></div>
<div class="a" style="left:97.2px;top:893.00px;width:14px;height:16px"><svg width="14" height="16" viewBox="0 0 14 16" fill="none" stroke="#6d6d6d" stroke-width="1.2" stroke-linejoin="round" stroke-linecap="round"><rect x="0.9" y="5.3" width="11.4" height="2.5" rx="0.6"/><path d="M1.9 7.8 V13.3 a1 1 0 0 0 1 1 H10.3 a1 1 0 0 0 1 -1 V7.8 M6.6 5.3 V14.2 M6.6 5.2 C5.6 2.4 3.1 2 3.1 3.7 C3.1 4.7 4.6 5.2 6.6 5.2 M6.6 5.2 C7.6 2.4 10.1 2 10.1 3.7 C10.1 4.7 8.6 5.2 6.6 5.2"/></svg></div>
<div class="a pct" style="top:877.40px"><span style="position:relative;display:inline-block">7%</span></div>
<div class="a yes" style="top:869.70px"><span style="font-size:12.3px">买入</span> Yes <b>9.6¢</b></div>
<div class="a no" style="top:869.70px"><span style="font-size:12.3px">买入</span> No <b>96.4¢</b></div>

</body></html>
